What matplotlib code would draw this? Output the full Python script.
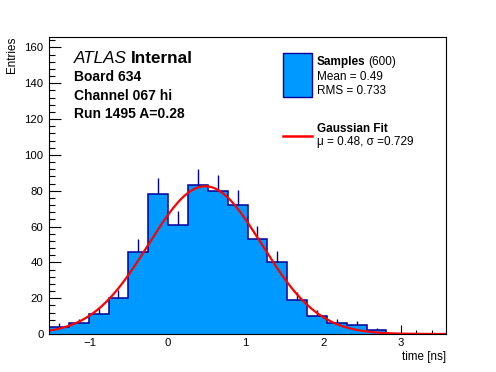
import numpy as np
import matplotlib
matplotlib.use("Agg")
import matplotlib.pyplot as plt
from matplotlib.ticker import MultipleLocator
from matplotlib.patches import Rectangle
from matplotlib.lines import Line2D

plt.rcParams['font.family'] = ['Liberation Sans', 'DejaVu Sans']

# ---- data ----
x_min, x_max = -1.53, 3.58
counts = [4, 6, 11, 20, 46, 78, 61, 83, 80, 72, 53, 40, 19, 10, 6, 5, 2, 0, 0, 0]
fit_mu = 0.48
fit_sigma = 0.729
fit_amp = 82.5
y_max = 166
n_entries = 600
mean_val = 0.49
rms_val = 0.733

fill_c = '#0099ff'
edge_c = '#000099'

counts = np.array(counts, dtype=float)
edges = np.linspace(x_min, x_max, len(counts) + 1)
centers = 0.5 * (edges[:-1] + edges[1:])

fig = plt.figure(figsize=(4.96, 3.72), dpi=100)
ax = fig.add_axes([49/496, 1 - 334/372, (446-49)/496, (334-36.7)/372])

# error bars (lower half hidden under fill)
mask = counts > 0
ax.vlines(centers[mask], counts[mask] - np.sqrt(counts[mask]),
          counts[mask] + np.sqrt(counts[mask]), color=edge_c, lw=1.0, zorder=1)
ax.stairs(counts, edges, fill=True, color=fill_c, zorder=2)
ax.stairs(counts, edges, fill=False, color=edge_c, lw=1.1, zorder=3, baseline=0)

xx = np.linspace(x_min, x_max, 400)
yy = fit_amp * np.exp(-0.5 * ((xx - fit_mu) / fit_sigma) ** 2)
ax.plot(xx, yy, color='#ff0000', lw=1.6, zorder=4)

ax.set_xlim(x_min, x_max)
ax.set_ylim(0, y_max)
ax.xaxis.set_major_locator(MultipleLocator(1))
ax.xaxis.set_minor_locator(MultipleLocator(0.2))
ax.yaxis.set_major_locator(MultipleLocator(20))
ax.yaxis.set_minor_locator(MultipleLocator(4))
ax.tick_params(axis='both', which='both', direction='in', top=False, right=False,
               labelsize=8.2, color='black')
ax.tick_params(axis='y', which='major', length=8.6, width=0.8, pad=4)
ax.tick_params(axis='y', which='minor', length=4.3, width=0.8)
ax.tick_params(axis='x', which='major', length=6.5, width=0.8, pad=3)
ax.tick_params(axis='x', which='minor', length=3.2, width=0.8)
for s in ax.spines.values():
    s.set_linewidth(0.8)
    s.set_zorder(5)

fig.text(446/496, 1 - 360/372, 'time [ns]', ha='right', va='baseline', fontsize=8.4)
fig.text(12/496, 1 - 55/372, 'Entries', rotation=90, ha='center', va='center', fontsize=8.4)

# left labels
def ftxt(x, y, s, **kw):
    fig.text(x/496, 1 - y/372, s, ha='left', va='baseline', **kw)

t = fig.text(74/496, 1 - 63.3/372, 'ATLAS', ha='left', va='baseline', fontsize=12.3, style='italic')
fig.canvas.draw()
bb = t.get_window_extent()
fig.text((bb.x1 + 4)/496, 1 - 63.3/372, 'Internal', ha='left', va='baseline', fontsize=12.3, weight='bold')
ftxt(74, 80.7, 'Board 634', fontsize=10, weight='bold')
ftxt(74, 99.5, 'Channel 067 hi', fontsize=10, weight='bold')
ftxt(74, 118.3, 'Run 1495 A=0.28', fontsize=10, weight='bold')

# legend
fig.patches.append(Rectangle((283.3/496, 1 - 96.7/372), (311.7-283.3)/496, (96.7-53.3)/372,
                             transform=fig.transFigure, facecolor=fill_c, edgecolor=edge_c, lw=1.0))
fig.lines.append(Line2D([283.3/496, 311.7/496], [1 - 136/372, 1 - 136/372],
                        transform=fig.transFigure, color='#ff0000', lw=1.8))
t2 = fig.text(317/496, 1 - 65/372, 'Samples', ha='left', va='baseline', fontsize=8.5, weight='bold')
fig.canvas.draw()
bb = t2.get_window_extent()
fig.text((bb.x1 + 2.5)/496, 1 - 65/372, '(%d)' % n_entries, ha='left', va='baseline', fontsize=8.5)
ftxt(317, 80, 'Mean = %.2f' % mean_val, fontsize=8.5)
ftxt(317, 94, 'RMS = %.3f' % rms_val, fontsize=8.5)
ftxt(317, 132.5, 'Gaussian Fit', fontsize=8.5, weight='bold')
ftxt(317, 144.5, 'μ = %.2f, σ =%.3f' % (fit_mu, fit_sigma), fontsize=8.5)

fig.savefig('out.png', dpi=100)
